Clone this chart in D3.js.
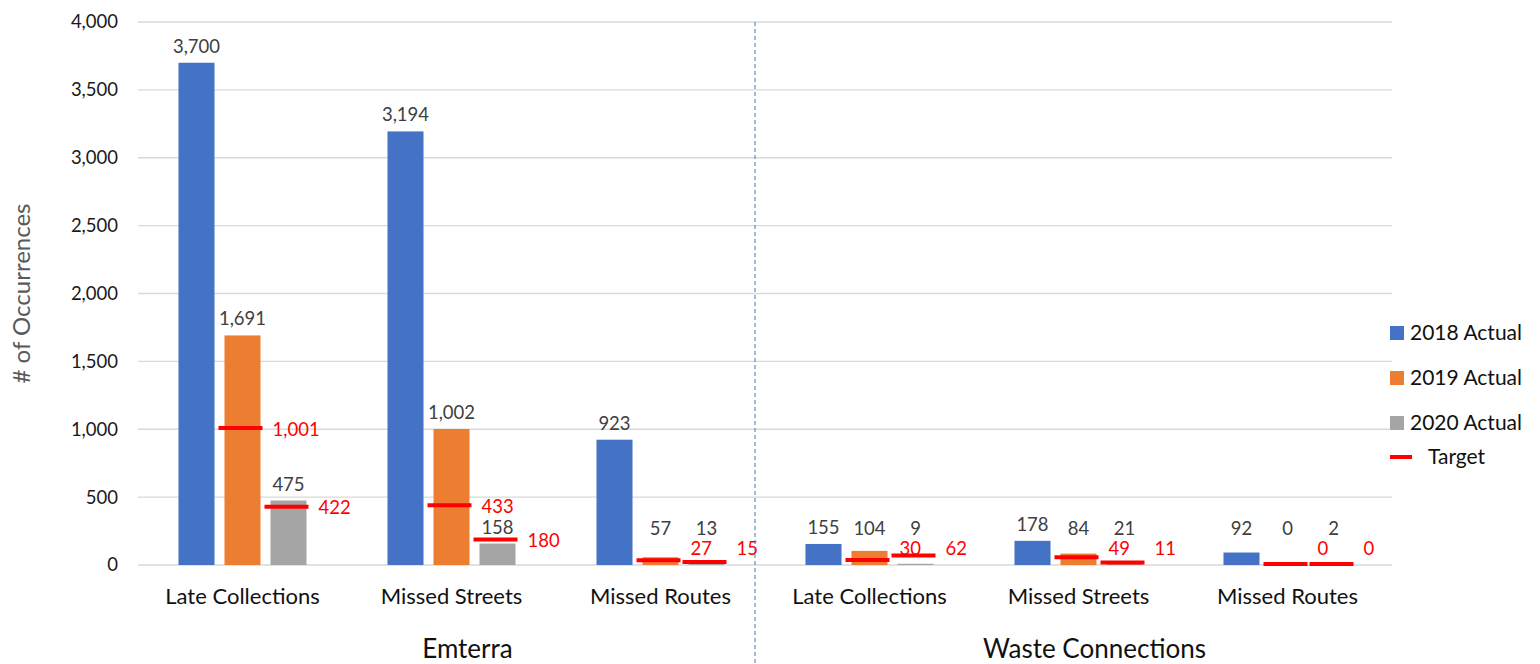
<!DOCTYPE html>
<html>
<head>
<meta charset="utf-8">
<script src="https://cdn.jsdelivr.net/npm/d3@7"></script>
<style>
  body { margin: 0; background: #fff; }
  svg { font-family: Lato, "Open Sans", sans-serif; }
</style>
</head>
<body>
<div id="chart"></div>
<script>
// chart data
const categories = ["Late Collections", "Missed Streets", "Missed Routes", "Late Collections", "Missed Streets", "Missed Routes"];
const groups = ["Emterra", "Waste Connections"];
const seriesNames = ["2018 Actual", "2019 Actual", "2020 Actual"];
const actual2018 = [3700, 3194, 923, 155, 178, 92];
const actual2019 = [1691, 1002, 57, 104, 84, 0];
const actual2020 = [475, 158, 13, 9, 21, 2];
const target2019 = [1001, 433, 27, 30, 49, 0];
const target2020 = [422, 180, 15, 62, 11, 0];
const yTicks = [0, 500, 1000, 1500, 2000, 2500, 3000, 3500, 4000];

const width = 1540, height = 664;
const margin = { top: 22, right: 148, bottom: 99, left: 138 };
const colors = ["#4472C4", "#ED7D31", "#A5A5A5"];
const fmt = d3.format(",");

const svg = d3.select("#chart").append("svg")
  .attr("width", width)
  .attr("height", height);

const x = d3.scaleBand()
  .domain(d3.range(categories.length))
  .range([margin.left, width - margin.right]);

const inner = d3.scaleBand()
  .domain(d3.range(seriesNames.length))
  .range([0, x.bandwidth()])
  .paddingInner(0.217)
  .paddingOuter(0.88);

const y = d3.scaleLinear()
  .domain([0, 4000])
  .range([height - margin.bottom, margin.top]);

// gridlines
svg.append("g")
  .selectAll("line")
  .data(yTicks)
  .enter()
  .append("line")
  .attr("x1", margin.left)
  .attr("x2", width - margin.right)
  .attr("y1", d => y(d))
  .attr("y2", d => y(d))
  .attr("stroke", "#D9D9D9")
  .attr("stroke-width", 1.3);

// y axis labels
const yAxis = svg.append("g")
  .attr("transform", `translate(${margin.left - 17},0)`)
  .call(d3.axisLeft(y).tickValues(yTicks).tickFormat(fmt).tickSize(0));
yAxis.select(".domain").remove();
yAxis.selectAll("text")
  .attr("font-size", 18.5)
  .attr("font-family", "Lato")
  .attr("fill", "#1a1a1a");

svg.append("text")
  .attr("transform", `translate(30,${(margin.top + height - margin.bottom) / 2}) rotate(-90)`)
  .attr("text-anchor", "middle")
  .attr("font-size", 24)
  .attr("fill", "#595959")
  .text("# of Occurrences");

// bars
const series = [actual2018, actual2019, actual2020];
series.forEach((vals, s) => {
  const g = svg.append("g");
  g.selectAll("rect")
    .data(vals)
    .enter()
    .append("rect")
    .attr("x", (d, i) => x(i) + inner(s))
    .attr("y", d => y(d))
    .attr("width", inner.bandwidth())
    .attr("height", d => y(0) - y(d))
    .attr("fill", colors[s]);
  g.selectAll("text")
    .data(vals)
    .enter()
    .append("text")
    .attr("x", (d, i) => x(i) + inner(s) + inner.bandwidth() / 2)
    .attr("y", d => Math.min(y(d), y(0) - 20) - 10)
    .attr("text-anchor", "middle")
    .attr("font-size", 18.5)
    .attr("fill", "#404040")
    .text(d => fmt(d));
});

// targets
const targets = [target2019, target2020];
const markW = 48;
targets.forEach((vals, t) => {
  const s = t + 1;
  const cx = i => x(i) + inner(s) + inner.bandwidth() / 2;
  const g = svg.append("g");
  g.selectAll("line")
    .data(vals)
    .enter()
    .append("line")
    .attr("x1", (d, i) => cx(i) - markW / 2)
    .attr("x2", (d, i) => cx(i) + markW / 2 - 4)
    .attr("y1", d => y(d) - 1)
    .attr("y2", d => y(d) - 1)
    .attr("stroke", "#FF0000")
    .attr("stroke-width", 4);
  g.selectAll("text")
    .data(vals)
    .enter()
    .append("text")
    .attr("x", (d, i) => cx(i) + markW / 2 + 6)
    .attr("y", d => Math.min(y(d), y(0) - 16))
    .attr("dy", "0.35em")
    .attr("font-size", 18.5)
    .attr("fill", "#FF0000")
    .text(d => fmt(d));
});

// category labels
svg.append("g")
  .selectAll("text")
  .data(categories)
  .enter()
  .append("text")
  .attr("x", (d, i) => x(i) + x.bandwidth() / 2)
  .attr("y", height - margin.bottom + 39)
  .attr("text-anchor", "middle")
  .attr("font-size", 22)
  .attr("fill", "#111")
  .text(d => d);

// group labels and divider
const per = categories.length / groups.length;
svg.append("g")
  .selectAll("text")
  .data(groups)
  .enter()
  .append("text")
  .attr("x", (d, i) => x(i * per) + per * x.bandwidth() / 2 + 16)
  .attr("y", height - 6)
  .attr("text-anchor", "middle")
  .attr("font-size", 26)
  .attr("fill", "#111")
  .text(d => d);

const divX = x(per) - 10;
svg.append("line")
  .attr("x1", divX).attr("x2", divX)
  .attr("y1", margin.top).attr("y2", height)
  .attr("stroke", "#4472C4")
  .attr("stroke-width", 1)
  .attr("stroke-dasharray", "4,3");

// legend
const legend = svg.append("g").attr("transform", "translate(1390,0)");
seriesNames.forEach((name, i) => {
  const ly = 333 + i * 45;
  legend.append("rect")
    .attr("x", 0).attr("y", ly - 7)
    .attr("width", 14).attr("height", 14)
    .attr("fill", colors[i]);
  legend.append("text")
    .attr("x", 20).attr("y", ly)
    .attr("dy", "0.35em")
    .attr("font-size", 21)
    .attr("fill", "#111")
    .text(name);
});
legend.append("line")
  .attr("x1", 0).attr("x2", 22)
  .attr("y1", 457).attr("y2", 457)
  .attr("stroke", "#FF0000")
  .attr("stroke-width", 4);
legend.append("text")
  .attr("x", 38).attr("y", 457)
  .attr("dy", "0.35em")
  .attr("font-size", 21)
  .attr("fill", "#111")
  .text("Target");
</script>
</body>
</html>
